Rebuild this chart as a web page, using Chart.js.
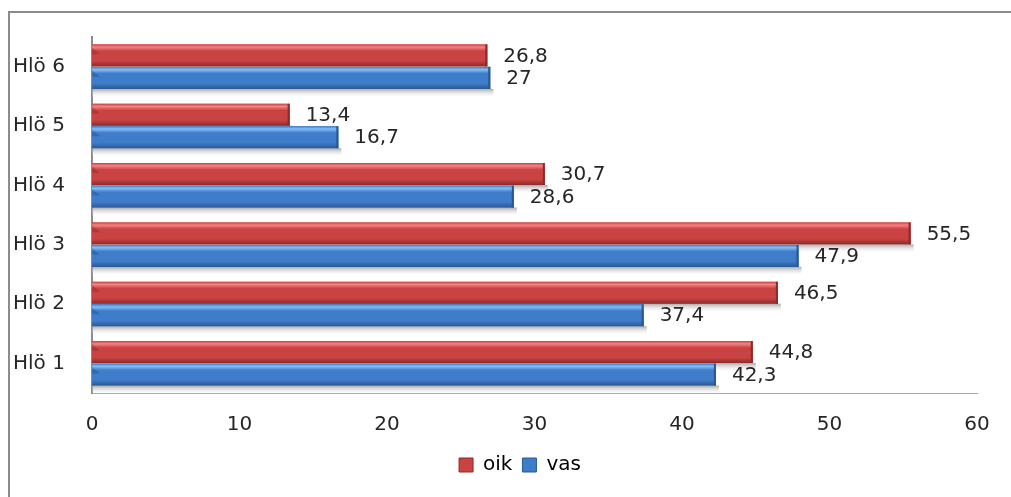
<!DOCTYPE html>
<html>
<head>
<meta charset="utf-8">
<title>Hlö</title>
<script src="https://cdn.jsdelivr.net/npm/chart.js@4.4.1/dist/chart.umd.min.js"></script>
<style>
  html, body { margin: 0; padding: 0; background: #fff; overflow: hidden; }
  canvas { display: block; }
</style>
</head>
<body>
<canvas id="chart" width="1011" height="497"></canvas>
<script>
// Data, top to bottom as in the picture
let categories = ['Hlö 6', 'Hlö 5', 'Hlö 4', 'Hlö 3', 'Hlö 2', 'Hlö 1'];
let oikValues = [26.8, 13.4, 30.7, 55.5, 46.5, 44.8];
let vasValues = [27, 16.7, 28.6, 47.9, 37.4, 42.3];
let xTicks = [0, 10, 20, 30, 40, 50, 60];

const FONT = 'DejaVu Sans';

// colour sets: top highlight, main, bottom shade
const shades = [
    { top: '#f48484', mid: '#c94343', bot: '#8e2a2a' },
    { top: '#84bef6', mid: '#3f7cc9', bot: '#2a5893' }
];

function fmt(v) {
    return String(v).replace('.', ',');
}

// outer frame: only left and top edges are visible in the original
const frame = {
    id: 'frame',
    beforeDraw(chart) {
        const ctx = chart.ctx;
        ctx.save();
        ctx.fillStyle = '#8c8c8c';
        ctx.fillRect(8, 11, chart.width - 8, 2);
        ctx.fillRect(8, 11, 2, chart.height - 11);
        ctx.restore();
    }
};

// shading, shadow and value labels on the bars
const barLook = {
    id: 'barLook',
    afterLayout(chart) {
        // legend sits a little right of centre in the original
        chart.legend.left += 25;
        chart.legend.right += 25;
    },
    beforeDatasetsDraw(chart) {
        const ctx = chart.ctx;
        chart.data.datasets.forEach((ds, i) => {
            chart.getDatasetMeta(i).data.forEach(bar => {
                const p = bar.getProps(['x', 'y', 'base', 'height'], true);
                const bottom = p.y + p.height / 2;
                const g = ctx.createLinearGradient(0, bottom, 0, bottom + 9);
                g.addColorStop(0, 'rgba(150,150,150,0.8)');
                g.addColorStop(1, 'rgba(255,255,255,0)');
                ctx.fillStyle = g;
                ctx.fillRect(p.base, bottom, p.x - p.base + 3, 9);
            });
        });
    },
    afterDatasetsDraw(chart) {
        const ctx = chart.ctx;
        chart.data.datasets.forEach((ds, i) => {
            const s = shades[i];
            chart.getDatasetMeta(i).data.forEach((bar, j) => {
                const p = bar.getProps(['x', 'y', 'base', 'height'], true);
                const top = p.y - p.height / 2;
                const g = ctx.createLinearGradient(0, top, 0, top + p.height);
                g.addColorStop(0, s.mid);
                g.addColorStop(0.12, s.top);
                g.addColorStop(0.3, s.mid);
                g.addColorStop(0.75, s.mid);
                g.addColorStop(1, s.bot);
                ctx.fillStyle = g;
                ctx.fillRect(p.base, top, p.x - p.base, p.height);
                // small bevel at the start of the bar
                ctx.fillStyle = 'rgba(0,0,0,0.15)';
                ctx.beginPath();
                ctx.moveTo(p.base, top + 3);
                ctx.lineTo(p.base + 8, top + p.height * 0.45);
                ctx.lineTo(p.base, top + p.height * 0.45);
                ctx.closePath();
                ctx.fill();
                // darker end cap
                ctx.fillStyle = s.bot;
                ctx.fillRect(p.x - 2, top, 2, p.height);
                // value label
                ctx.save();
                ctx.fillStyle = '#262626';
                ctx.font = '20px "' + FONT + '"';
                ctx.textAlign = 'left';
                ctx.textBaseline = 'middle';
                ctx.fillText(fmt(ds.data[j]), p.x + 16, p.y + 1);
                ctx.restore();
            });
        });
    }
};

new Chart(document.getElementById('chart').getContext('2d'), {
    type: 'bar',
    data: {
        labels: categories,
        datasets: [{
            label: 'oik',
            data: oikValues,
            backgroundColor: shades[0].mid,
            borderColor: shades[0].bot,
            borderWidth: 0,
            categoryPercentage: 0.76,
            barPercentage: 0.97
        }, {
            label: 'vas',
            data: vasValues,
            backgroundColor: shades[1].mid,
            borderColor: shades[1].bot,
            borderWidth: 0,
            categoryPercentage: 0.76,
            barPercentage: 0.97
        }]
    },
    options: {
        indexAxis: 'y',
        responsive: false,
        animation: false,
        layout: { padding: { top: 37, right: 34, bottom: 12, left: 13 } },
        scales: {
            x: {
                min: 0,
                max: 60,
                afterBuildTicks: axis => { axis.ticks = xTicks.map(v => ({ value: v })); },
                grid: { display: false, drawTicks: false },
                border: { display: true, color: '#a6a6a6', width: 1 },
                ticks: { color: '#262626', padding: 20, font: { family: FONT, size: 20 } },
                afterFit: axis => { axis.height = 52; }
            },
            y: {
                grid: { display: false, drawTicks: false },
                border: { display: true, color: '#8c8c8c', width: 2 },
                ticks: { color: '#262626', crossAlign: 'far', font: { family: FONT, size: 20 } },
                afterFit: axis => { axis.width = 79; }
            }
        },
        plugins: {
            legend: {
                position: 'bottom',
                labels: {
                    color: '#262626',
                    boxWidth: 14,
                    boxHeight: 14,
                    padding: 10,
                    font: { family: FONT, size: 20 },
                    generateLabels: chart => chart.data.datasets.map((ds, i) => ({
                        text: ds.label,
                        fillStyle: ds.backgroundColor,
                        strokeStyle: ds.borderColor,
                        lineWidth: 1,
                        datasetIndex: i
                    }))
                }
            },
            tooltip: { enabled: false }
        }
    },
    plugins: [frame, barLook]
});
</script>
</body>
</html>
